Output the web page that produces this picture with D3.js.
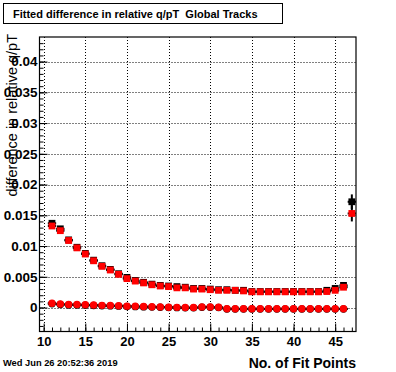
<!DOCTYPE html>
<html>
<head>
<meta charset="utf-8">
<script src="https://cdn.jsdelivr.net/npm/d3@7"></script>
<style>
  html, body { margin: 0; padding: 0; background: #fff; }
  svg { display: block; font-family: "Liberation Sans", Arial, Helvetica, sans-serif; }
  text { white-space: pre; }
</style>
</head>
<body>
<svg id="chart" width="396" height="372"></svg>
<script>
// ---- data ----
const titleText = "Fitted difference in relative q/pT  Global Tracks";
const xAxisTitle = "No. of Fit Points";
const yAxisTitle = "difference in relative q/pT";
const dateText = "Wed Jun 26 20:52:36 2019";

const fitPoints = [11,12,13,14,15,16,17,18,19,20,21,22,23,24,25,26,27,28,29,30,31,32,33,34,35,36,37,38,39,40,41,42,43,44,45,46,47];

const blackSquares = [0.0137,0.0128,0.0110,0.0098,0.0088,0.0077,0.0068,0.0062,0.0055,0.0049,0.0044,0.0041,0.0038,0.0036,0.0035,0.0034,0.0033,0.0031,0.0031,0.0030,0.0029,0.0029,0.0028,0.0028,0.0026,0.0026,0.0026,0.0026,0.0026,0.0026,0.0026,0.0026,0.0026,0.0028,0.0031,0.0036,0.0172];
const blackSquaresErr = [0.0001,0.0001,0.0001,0.0001,0.0001,0.0001,0.0001,0.0001,0.0001,0.0001,0.0001,0.0001,0.0001,0.0001,0.0001,0.0001,0.0001,0.0001,0.0001,0.0001,0.0001,0.0001,0.0001,0.0001,0.0001,0.0001,0.0001,0.0001,0.0001,0.0001,0.0001,0.0001,0.0001,0.0001,0.0001,0.0001,0.0012];

const redSquares = [0.01326,0.0125,0.0109,0.0097,0.0087,0.0076,0.0067,0.0061,0.0054,0.0047,0.0043,0.0040,0.0037,0.0035,0.0034,0.0032,0.0032,0.0030,0.0030,0.0029,0.0028,0.0028,0.0028,0.0027,0.00255,0.00255,0.00255,0.00255,0.00255,0.00255,0.00255,0.00255,0.00255,0.0026,0.0028,0.0033,0.0153];
const redSquaresErr = [0.0001,0.0001,0.0001,0.0001,0.0001,0.0001,0.0001,0.0001,0.0001,0.0001,0.0001,0.0001,0.0001,0.0001,0.0001,0.0001,0.0001,0.0001,0.0001,0.0001,0.0001,0.0001,0.0001,0.0001,0.0001,0.0001,0.0001,0.0001,0.0001,0.0001,0.0001,0.0001,0.0001,0.0001,0.0001,0.0001,0.0013];

const circlePoints = [11,12,13,14,15,16,17,18,19,20,21,22,23,24,25,26,27,28,29,30,31,32,33,34,35,36,37,38,39,40,41,42,43,44,45,46];
const blackCircles = [0.00062,0.0005,0.00042,0.0004,0.00038,0.00033,0.00028,0.00026,0.00022,0.00016,0.00014,0.0001,0.00007,0.00005,0.0,-0.00002,-0.00005,-0.00005,0.00005,0.00005,0.0,-0.00025,-0.00025,-0.00025,-0.00025,-0.00025,-0.00025,-0.00025,-0.00025,-0.00025,-0.00025,-0.00025,-0.00025,-0.00025,-0.00025,-0.00025];
const redCircles = [0.0007,0.00058,0.0005,0.00048,0.00045,0.0004,0.00035,0.00033,0.0003,0.00022,0.0002,0.00016,0.00012,0.0001,0.00005,0.00003,0.0,0.0,0.0001,0.0001,0.00005,-0.0002,-0.0002,-0.0002,-0.0002,-0.0002,-0.0002,-0.0002,-0.0002,-0.0002,-0.0002,-0.0002,-0.0002,-0.0002,-0.0002,-0.0002];

const xMajorTicks = [10,15,20,25,30,35,40,45];
const xTickLabels = ["10","15","20","25","30","35","40","45"];
const xMinorTicks = [10,11,12,13,14,15,16,17,18,19,20,21,22,23,24,25,26,27,28,29,30,31,32,33,34,35,36,37,38,39,40,41,42,43,44,45,46,47];
const yMajorTicks = [0,0.005,0.01,0.015,0.02,0.025,0.03,0.035,0.04];
const yTickLabels = ["0","0.005","0.01","0.015","0.02","0.025","0.03","0.035","0.04"];
const yMinorTicks = [-0.003,-0.002,-0.001,0,0.001,0.002,0.003,0.004,0.005,0.006,0.007,0.008,0.009,0.01,0.011,0.012,0.013,0.014,0.015,0.016,0.017,0.018,0.019,0.02,0.021,0.022,0.023,0.024,0.025,0.026,0.027,0.028,0.029,0.03,0.031,0.032,0.033,0.034,0.035,0.036,0.037,0.038,0.039,0.04,0.041,0.042,0.043];

// ---- layout ----
const frame = { left: 39.5, right: 356, top: 37, bottom: 331.5 };
const svg = d3.select("#chart");

const x = d3.scaleLinear().domain([9.5, 47.5]).range([frame.left, frame.right]);
const y = d3.scaleLinear().domain([-0.0039, 0.044]).range([frame.bottom, frame.top]);

// grid
const grid = svg.append("g");
grid.selectAll("line.gx").data(xMajorTicks).enter().append("line")
  .attr("x1", d => Math.round(x(d)) + 0.5).attr("x2", d => Math.round(x(d)) + 0.5)
  .attr("y1", frame.top).attr("y2", frame.bottom)
  .attr("stroke", "#000").attr("stroke-width", 1).attr("stroke-dasharray", "1,2");
grid.selectAll("line.gy").data(yMajorTicks).enter().append("line")
  .attr("y1", d => Math.round(y(d)) + 0.5).attr("y2", d => Math.round(y(d)) + 0.5)
  .attr("x1", frame.left).attr("x2", frame.right)
  .attr("stroke", "#000").attr("stroke-width", 1).attr("stroke-dasharray", "1,2");

// frame
svg.append("rect")
  .attr("x", frame.left).attr("y", frame.top)
  .attr("width", frame.right - frame.left).attr("height", frame.bottom - frame.top)
  .attr("fill", "none").attr("stroke", "#000").attr("stroke-width", 1.2);

// axes
const xAxisMajor = d3.axisBottom(x).tickValues(xMajorTicks)
  .tickFormat((d, i) => xTickLabels[i]).tickSizeInner(-8).tickSizeOuter(0).tickPadding(5);
const xAxisMinor = d3.axisBottom(x).tickValues(xMinorTicks).tickFormat("").tickSizeInner(-4).tickSizeOuter(0);
const yAxisMajor = d3.axisLeft(y).tickValues(yMajorTicks)
  .tickFormat((d, i) => yTickLabels[i]).tickSizeInner(-8).tickSizeOuter(0).tickPadding(2);
const yAxisMinor = d3.axisLeft(y).tickValues(yMinorTicks).tickFormat("").tickSizeInner(-4).tickSizeOuter(0);

function styleAxis(size) {
  return g => {
    g.select(".domain").remove();
    g.selectAll("line").attr("stroke", "#000");
    g.selectAll("text").attr("font-size", size).attr("font-weight", "bold")
      .attr("fill", "#000").attr("font-family", "'Liberation Sans', Arial, Helvetica, sans-serif");
  };
}
svg.append("g").attr("transform", `translate(0,${frame.bottom})`).call(xAxisMinor).call(styleAxis("13px"));
svg.append("g").attr("transform", `translate(0,${frame.bottom})`).call(xAxisMajor).call(styleAxis("13px"));
svg.append("g").attr("transform", `translate(${frame.left},0)`).call(yAxisMinor).call(styleAxis("13.5px"));
svg.append("g").attr("transform", `translate(${frame.left},0)`).call(yAxisMajor).call(styleAxis("13.5px"));

// axis titles
svg.append("text").attr("x", frame.right).attr("y", 368)
  .attr("text-anchor", "end").attr("font-size", "14px").attr("font-weight", "bold")
  .text(xAxisTitle);
svg.append("text").attr("transform", `translate(16.5,34) rotate(-90)`)
  .attr("text-anchor", "end").attr("font-size", "14.5px")
  .text(yAxisTitle);

// series
function drawErrors(xs, ys, es) {
  const g = svg.append("g");
  xs.forEach((xv, i) => {
    g.append("line").attr("x1", x(xv - 0.5)).attr("x2", x(xv + 0.5))
      .attr("y1", y(ys[i])).attr("y2", y(ys[i])).attr("stroke", "#000").attr("stroke-width", 2);
    g.append("line").attr("x1", x(xv)).attr("x2", x(xv))
      .attr("y1", y(ys[i] - es[i])).attr("y2", y(ys[i] + es[i])).attr("stroke", "#000").attr("stroke-width", 2);
  });
}
function drawSquares(xs, ys, color) {
  const s = 6.8;
  svg.append("g").selectAll("rect").data(xs).enter().append("rect")
    .attr("x", (d) => x(d) - s / 2).attr("y", (d, i) => y(ys[i]) - s / 2)
    .attr("width", s).attr("height", s).attr("fill", color);
}
function drawCircles(xs, ys, color) {
  svg.append("g").selectAll("circle").data(xs).enter().append("circle")
    .attr("cx", d => x(d)).attr("cy", (d, i) => y(ys[i])).attr("r", 3.7).attr("fill", color);
}

drawErrors(fitPoints, blackSquares, blackSquaresErr);
drawErrors(fitPoints, redSquares, redSquaresErr);
drawErrors(circlePoints, blackCircles, circlePoints.map(() => 0));
drawErrors(circlePoints, redCircles, circlePoints.map(() => 0));
drawSquares(fitPoints, blackSquares, "#000");
drawSquares(fitPoints, redSquares, "#ff0000");
drawCircles(circlePoints, blackCircles, "#000");
drawCircles(circlePoints, redCircles, "#ff0000");

// title box
svg.append("rect").attr("x", 3.5).attr("y", 3.5).attr("width", 279).attr("height", 20)
  .attr("fill", "#fff").attr("stroke", "#000").attr("stroke-width", 1);
svg.append("text").attr("x", 13).attr("y", 18).attr("font-size", "11px").attr("font-weight", "bold")
  .text(titleText);

// date
svg.append("text").attr("x", 3).attr("y", 366).attr("font-size", "9.3px").attr("font-weight", "bold")
  .text(dateText);
</script>
</body>
</html>
